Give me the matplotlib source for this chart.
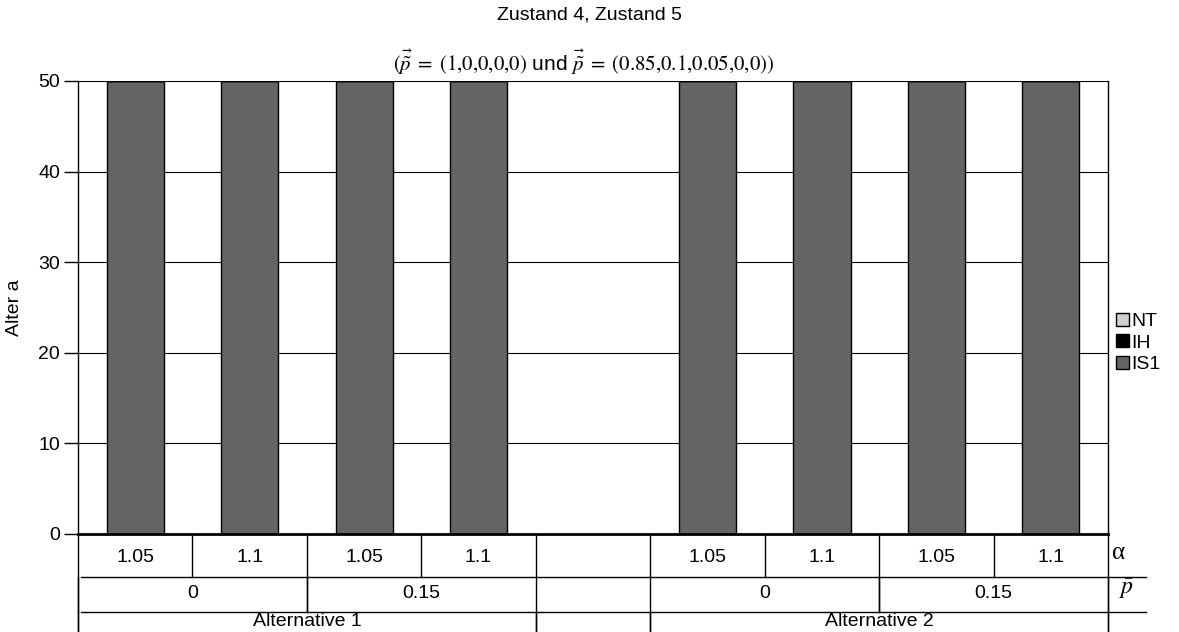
import matplotlib
matplotlib.use("Agg")
import matplotlib.pyplot as plt
import matplotlib.transforms as mtransforms
from matplotlib.patches import Patch
import numpy as np

plt.rcParams['font.family'] = ['Liberation Sans', 'DejaVu Sans']
plt.rcParams['mathtext.fontset'] = 'stix'

# Category slots (the middle slot separates the two alternatives)
alpha_labels = ["1.05", "1.1", "1.05", "1.1", "", "1.05", "1.1", "1.05", "1.1"]
pbar_groups = [("0", 0, 2), ("0.15", 2, 4), ("0", 5, 7), ("0.15", 7, 9)]
alt_groups = [("Alternative 1", 0, 4), ("", 4, 5), ("Alternative 2", 5, 9)]

# Stacked age components per slot (nan = empty slot)
is1_values = [50, 50, 50, 50, np.nan, 50, 50, 50, 50]
ih_values = [0, 0, 0, 0, np.nan, 0, 0, 0, 0]
nt_values = [0, 0, 0, 0, np.nan, 0, 0, 0, 0]

series_names = ["NT", "IH", "IS1"]
series_colors = {"NT": "#cfcfcf", "IH": "#000000", "IS1": "#646464"}

yticks = [0, 10, 20, 30, 40, 50]

FS = 14
W, H = 1179, 632
fig = plt.figure(figsize=(W / 100, H / 100), dpi=100)
ax_l, ax_r, ax_t, ax_b = 78, 1108, 81, 534
ax = fig.add_axes([ax_l / W, 1 - ax_b / H, (ax_r - ax_l) / W, (ax_b - ax_t) / H])

x = np.arange(len(alpha_labels))
is1 = np.array(is1_values, float)
ih = np.array(ih_values, float)
nt = np.array(nt_values, float)
valid = ~np.isnan(is1)

bw = 0.5
ax.bar(x[valid], is1[valid], width=bw, color=series_colors["IS1"],
       edgecolor="black", linewidth=1.0, zorder=3)
ax.bar(x[valid], ih[valid], bottom=is1[valid], width=bw, color=series_colors["IH"],
       edgecolor="black", linewidth=1.0, zorder=3)
ax.bar(x[valid], nt[valid], bottom=(is1 + ih)[valid], width=bw, color=series_colors["NT"],
       edgecolor="black", linewidth=1.0, zorder=3)

ax.set_xlim(-0.5, len(alpha_labels) - 0.5)
ax.set_ylim(0, 50)
ax.set_yticks(yticks)
ax.set_xticks([])
ax.tick_params(axis="y", length=10, width=1, direction="out", labelsize=FS, pad=3)
ax.yaxis.grid(True, color="black", linewidth=0.8, zorder=1)
ax.set_axisbelow(True)
for side in ("left", "right", "top"):
    ax.spines[side].set_linewidth(1.0)
ax.spines["top"].set_visible(False)
ax.spines["bottom"].set_linewidth(2.0)
ax.spines["bottom"].set_zorder(5)
ax.set_ylabel("Alter a", fontsize=FS, labelpad=11)

# Table below the axis: y given in pixels below the axis bottom
axh = ax_b - ax_t
def fy(px):
    return -(px - ax_b) / axh

trans = mtransforms.blended_transform_factory(ax.transData, ax.transAxes)
lk = dict(color="black", linewidth=1.0, transform=trans, clip_on=False)
r0, r1, r2, r3 = 534, 577, 611.5, 640
slot_px = (ax_r - ax_l) / len(alpha_labels)

# horizontal separators
x_end = -0.5 + (1146 - ax_l) / slot_px
x_start = -0.5 + (81 - ax_l) / slot_px
for yy in (r1, r2):
    ax.plot([x_start, x_end], [fy(yy), fy(yy)], **lk)

# outer verticals
for xx in (-0.5, len(alpha_labels) - 0.5):
    ax.plot([xx, xx], [fy(r0), fy(r3)], **lk)

# alpha row
for i, lab in enumerate(alpha_labels):
    if i > 0:
        ax.plot([i - 0.5, i - 0.5], [fy(r0), fy(r1)], **lk)
    if lab:
        ax.text(i, fy(557), lab, transform=trans, ha="center",
                va="center", fontsize=FS)

# p-bar row
for lab, s, e in pbar_groups:
    ax.plot([s - 0.5, s - 0.5], [fy(r1), fy(r2)], **lk)
    ax.plot([e - 0.5, e - 0.5], [fy(r1), fy(r2)], **lk)
    ax.text((s + e - 1) / 2, fy(594), lab, transform=trans,
            ha="center", va="center", fontsize=FS)

# alternative row
for lab, s, e in alt_groups:
    ax.plot([s - 0.5, s - 0.5], [fy(r2), fy(r3)], **lk)
    ax.plot([e - 0.5, e - 0.5], [fy(r2), fy(r3)], **lk)
    if lab:
        ax.text((s + e - 1) / 2, fy(621), lab, transform=trans,
                ha="center", va="center", fontsize=FS)

# row symbols
ax.text(-0.5 + (1112 - ax_l) / slot_px, fy(553), "α", transform=trans, ha="left",
        va="center", fontsize=18, family=["Liberation Serif", "DejaVu Serif"])
ax.text(-0.5 + (1119 - ax_l) / slot_px, fy(589), r"$\bar{p}$", transform=trans,
        ha="left", va="center", fontsize=17)

# titles
fig.text(0.5, 1 - 15 / H, "Zustand 4, Zustand 5", ha="center", va="center",
         fontsize=FS)
fig.text(0.495, 1 - 62 / H,
         r"$(\vec{\tilde{p}}\;=\;(1{,}0{,}0{,}0{,}0)$ und "
         r"$\vec{\tilde{p}}\;=\;(0.85{,}0.1{,}0.05{,}0{,}0))$",
         ha="center", va="center", fontsize=15)

handles = [Patch(facecolor=series_colors[n], edgecolor="black", linewidth=1.0, label=n)
           for n in series_names]
fig.legend(handles=handles, loc="center left",
           bbox_to_anchor=(1116 / W, 1 - 343 / H), frameon=False, fontsize=FS,
           handlelength=0.65, handleheight=0.65, handletextpad=0.15,
           labelspacing=0.2, borderaxespad=0, borderpad=0)

fig.savefig("out.png", dpi=100)
